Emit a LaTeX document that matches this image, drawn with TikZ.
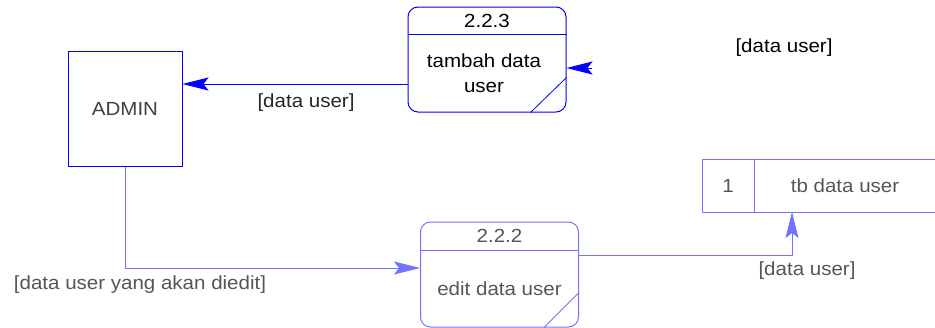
\documentclass[tikz,border=0pt]{standalone}
\usepackage{fontspec}
\setmainfont[FakeStretch=1.08]{Liberation Sans}
\usetikzlibrary{arrows.meta}

\definecolor{linestrong}{RGB}{0,0,255}
\definecolor{linefaded}{RGB}{115,115,255}
\definecolor{textfaded}{RGB}{85,85,85}

\tikzset{
 dfdtext/.style={font=\fontsize{19}{25}\selectfont, inner sep=0pt, align=center},
 entitybox/.style={draw=linestrong, line width=1pt, minimum width=114pt, minimum height=115pt, inner sep=0pt},
 procbox/.style={draw=#1, line width=1pt, rounded corners=10pt, minimum width=158pt, minimum height=105pt, inner sep=0pt},
 flow/.style={draw=#1, line width=1pt, -{Stealth[length=26pt,width=13pt,inset=5pt]}}
}

\begin{document}
\begin{tikzpicture}[x=1pt,y=-1pt]
 \useasboundingbox (0,0) rectangle (935,327);

 %external entity
 \node[entitybox, dfdtext, text=black!75] (admin) at (125,108.5) {ADMIN};

 %process 2.2.3
 \node[procbox=linestrong] (tambah) at (487,59.5) {};
 \draw[linestrong, line width=1pt] ([yshift=-28pt]tambah.north west) -- ([yshift=-28pt]tambah.north east);
 \draw[linestrong, line width=0.8pt] ([xshift=-36pt]tambah.south east) -- ([yshift=35pt]tambah.south east);
 \node[dfdtext] (tambahid) at (487,21) {2.2.3};
 \node[dfdtext] (tambahname) at (484,73) {tambah data\\user};

 %process 2.2.2
 \node[procbox=linefaded] (edit) at (499.5,274.5) {};
 \draw[linefaded, line width=1pt] ([yshift=-29pt]edit.north west) -- ([yshift=-29pt]edit.north east);
 \draw[linefaded, line width=0.8pt] ([xshift=-35pt]edit.south east) -- ([yshift=35pt]edit.south east);
 \node[dfdtext, text=textfaded] (editid) at (499.5,236) {2.2.2};
 \node[dfdtext, text=textfaded] (editname) at (499.5,289) {edit data user};

 %data store
 \coordinate (storeNW) at (702,159);
 \coordinate (storeSW) at (702,212);
 \coordinate (storeNE) at (935,159);
 \coordinate (storeSE) at (935,212);
 \coordinate (storeDivN) at (754,159);
 \coordinate (storeDivS) at (754,212);
 \coordinate (storeIn) at (792,212);
 \draw[linefaded, line width=1pt] (storeNE) -- (storeNW) -- (storeSW) -- (storeSE);
 \draw[linefaded, line width=1pt] (storeDivN) -- (storeDivS);
 \node[dfdtext, text=textfaded] (storeid) at (728,185.5) {1};
 \node[dfdtext, text=textfaded] (storename) at (845,185.5) {tb data user};

 %flows
 \draw[flow=linestrong] ([yshift=-24.5pt]tambah.west) -- ([yshift=-24.5pt]tambah.west -| admin.east);
 \coordinate (tambahin) at (592,68);
 \draw[flow=linestrong] (tambahin) -- (tambahin -| tambah.east);
 \draw[flow=linefaded] (admin.south) |- ([yshift=6.5pt]edit.west);
 \draw[flow=linefaded] ([yshift=19.5pt]edit.east) -| (storeIn);

 %flow labels
 \node[dfdtext, text=black!85] (lbladmin) at (306,103) {[data user]};
 \node[dfdtext] (lbltop) at (784,48) {[data user]};
 \node[dfdtext, text=textfaded] (lbledit) at (140,285) {[data user yang akan diedit]};
 \node[dfdtext, text=textfaded] (lblstore) at (807,271) {[data user]};
\end{tikzpicture}
\end{document}
